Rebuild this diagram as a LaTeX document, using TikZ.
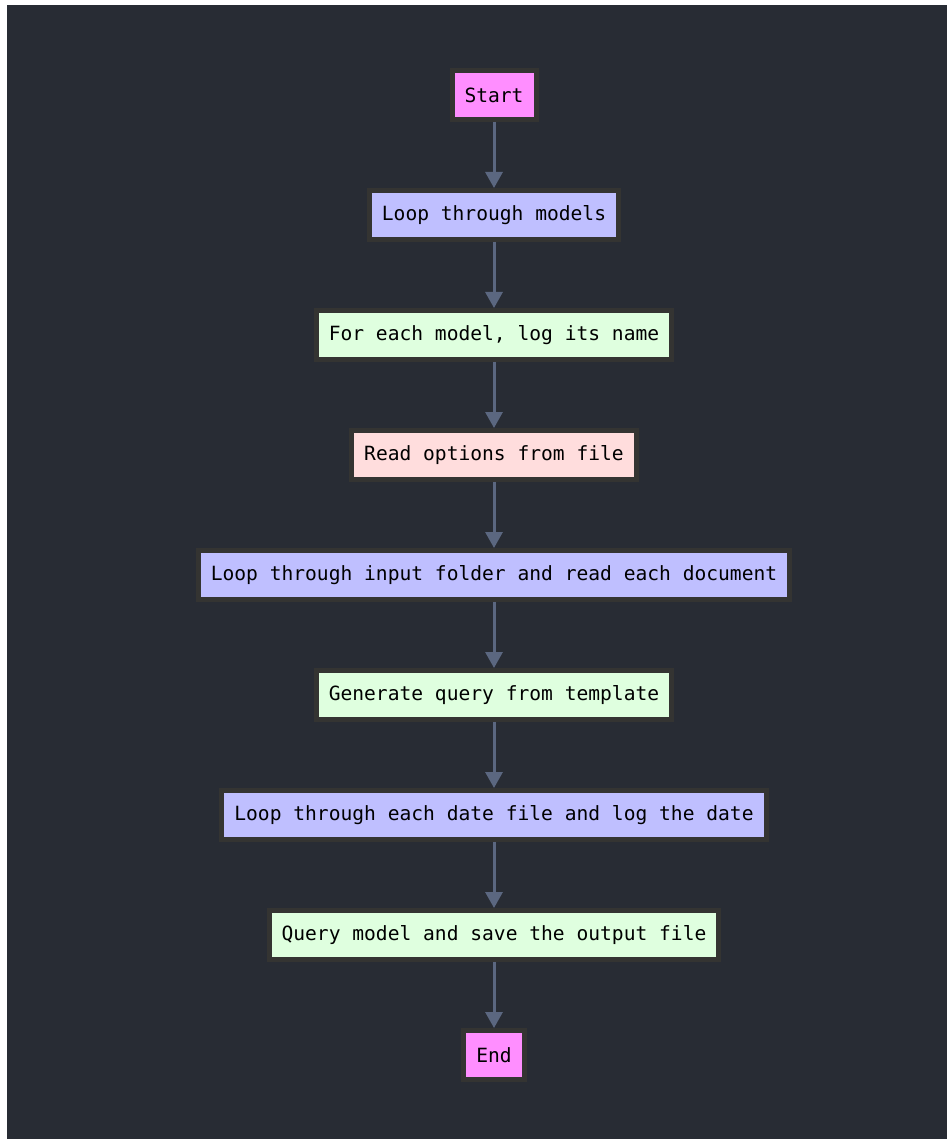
\documentclass[tikz,border=0pt]{standalone}
\usepackage{fontspec}
\setmonofont{DejaVu Sans Mono}
\usetikzlibrary{arrows.meta}
\definecolor{bg}{HTML}{282C34}
\definecolor{bordc}{HTML}{343432}
\definecolor{arrc}{HTML}{5B6780}
\definecolor{cpink}{HTML}{FF8EFF}
\definecolor{cblue}{HTML}{BFBFFF}
\definecolor{cgreen}{HTML}{DFFFDF}
\definecolor{crose}{HTML}{FFDDDD}
\tikzset{
  box/.style={draw=bordc, line width=5pt, inner xsep=12.5pt, inner ysep=0pt,
    minimum height=49pt, outer sep=2.5pt,
    font=\ttfamily\fontsize{19.6}{23}\selectfont, text=black, anchor=center},
  startend/.style={box, fill=cpink},
  loopbox/.style={box, fill=cblue},
  actbox/.style={box, fill=cgreen},
  readbox/.style={box, fill=crose},
  conn/.style={draw=arrc, line width=3pt, -{Triangle[width=17pt,length=16pt]}}
}
\begin{document}
\begin{tikzpicture}[x=1pt,y=-1pt]
\useasboundingbox (0,0) rectangle (948,1139);
\fill[white] (0,0) rectangle (948,1139);
\fill[bg] (7,5) rectangle (947,1139);
\node[startend] (start) at (494,95) {Start};
\node[loopbox] (models) at (494,215) {Loop through models};
\node[actbox] (logname) at (494,335) {For each model, log its name};
\node[readbox] (options) at (494,455) {Read options from file};
\node[loopbox] (input) at (494,575) {Loop through input folder and read each document};
\node[actbox] (query) at (494,695) {Generate query from template};
\node[loopbox] (dates) at (494,815) {Loop through each date file and log the date};
\node[actbox] (save) at (494,935) {Query model and save the output file};
\node[startend] (end) at (494,1055) {End};
\draw[conn] (start) -- (models);
\draw[conn] (models) -- (logname);
\draw[conn] (logname) -- (options);
\draw[conn] (options) -- (input);
\draw[conn] (input) -- (query);
\draw[conn] (query) -- (dates);
\draw[conn] (dates) -- (save);
\draw[conn] (save) -- (end);
\end{tikzpicture}
\end{document}
